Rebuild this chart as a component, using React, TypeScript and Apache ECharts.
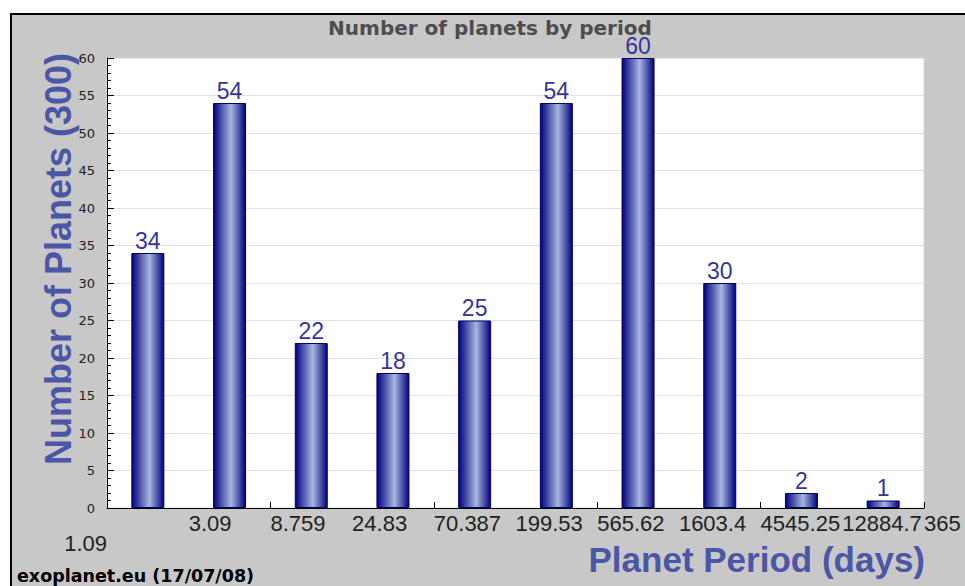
import React, { useEffect, useRef } from "react";
import * as echarts from "echarts";

const periodBoundaries = ["1.09", "3.09", "8.759", "24.83", "70.387", "199.53", "565.62", "1603.4", "4545.25", "12884.7", "365"];
const planetCounts = [34, 54, 22, 18, 25, 54, 60, 30, 2, 1];
const binCategories = planetCounts.map((_, i) => `${periodBoundaries[i]}-${periodBoundaries[i + 1]}`);
const yMin = 0;
const yMax = 60;
const yStep = 5;

const chartTitle = "Number of planets by period";
const yName = "Number of Planets (300)";
const xName = "Planet Period (days)";
const footer = "exoplanet.eu (17/07/08)";

export default function App() {
  const ref = useRef<HTMLDivElement>(null);
  useEffect(() => {
    if (!ref.current) return;
    const chart = echarts.init(ref.current, null, { renderer: "svg" });
    const labelFont = "'Liberation Sans', Arial, sans-serif";
    const nameColor = "#4b56a6";
    chart.setOption({
      animation: false,
      backgroundColor: "transparent",
      grid: {
        left: 107,
        top: 58,
        width: 817,
        height: 450,
        show: true,
        backgroundColor: "#ffffff",
        borderColor: "#d8d8d8",
        borderWidth: 1,
      },
      xAxis: [
        {
          type: "category",
          data: binCategories,
          boundaryGap: true,
          axisLine: { show: true, lineStyle: { color: "#000", width: 1 } },
          axisTick: { show: true, inside: true, length: 6, lineStyle: { color: "#000" } },
          axisLabel: { show: false },
          splitLine: { show: false },
        },
        {
          type: "value",
          min: 0,
          max: periodBoundaries.length - 1,
          interval: 1,
          position: "bottom",
          axisLine: { show: false },
          axisTick: { show: false },
          splitLine: { show: false },
          axisLabel: {
            show: true,
            align: "left",
            margin: 4,
            fontSize: 22,
            lineHeight: 22,
            fontFamily: labelFont,
            color: "#222",
            showMinLabel: true,
            showMaxLabel: true,
            formatter: (v: number) => (v >= 1 ? periodBoundaries[Math.round(v)] : ""),
          },
        },
        {
          type: "value",
          min: 0,
          max: periodBoundaries.length - 1,
          interval: 1,
          position: "bottom",
          axisLine: { show: false },
          axisTick: { show: false },
          splitLine: { show: false },
          axisLabel: {
            show: true,
            align: "right",
            margin: 24,
            fontSize: 22,
            lineHeight: 22,
            fontFamily: labelFont,
            color: "#222",
            showMinLabel: true,
            formatter: (v: number) => (v === 0 ? periodBoundaries[0] : ""),
          },
        },
      ],
      yAxis: {
        type: "value",
        min: yMin,
        max: yMax,
        interval: yStep,
        axisLine: { show: true, lineStyle: { color: "#000", width: 1 } },
        axisTick: { show: true, inside: true, length: 7, lineStyle: { color: "#000" } },
        minorTick: { show: true, splitNumber: 5, length: 4, lineStyle: { color: "#000" } },
        splitLine: { show: true, lineStyle: { color: "#e2e2e2", width: 1 } },
        axisLabel: {
          margin: 12,
          fontSize: 13,
          fontFamily: "'DejaVu Sans', sans-serif",
          color: "#222",
        },
      },
      graphic: [
        {
          type: "text",
          x: 490,
          y: 28,
          style: {
            text: chartTitle,
            fill: "#4d4d4d",
            font: "bold 20px 'DejaVu Sans', sans-serif",
            align: "center",
            verticalAlign: "middle",
          },
        },
        {
          type: "text",
          x: 58,
          y: 259,
          rotation: Math.PI / 2,
          style: {
            text: yName,
            fill: nameColor,
            font: "bold 36px 'Liberation Sans', Arial, sans-serif",
            align: "center",
            verticalAlign: "middle",
          },
        },
        {
          type: "text",
          x: 925,
          y: 542,
          style: {
            text: xName,
            fill: nameColor,
            font: "bold 35px 'Liberation Sans', Arial, sans-serif",
            lineHeight: 35,
            align: "right",
            verticalAlign: "top",
          },
        },
        {
          type: "text",
          x: 17,
          y: 585,
          style: {
            text: footer,
            fill: "#000",
            font: "bold 17.5px 'DejaVu Sans', sans-serif",
            lineHeight: 17.5,
            align: "left",
            verticalAlign: "bottom",
          },
        },
      ],
      series: [
        {
          type: "bar",
          xAxisIndex: 0,
          data: planetCounts,
          barWidth: 33,
          itemStyle: {
            color: new echarts.graphic.LinearGradient(0, 0, 1, 0, [
              { offset: 0, color: "#00007e" },
              { offset: 0.55, color: "#a6b6de" },
              { offset: 1, color: "#00007e" },
            ]),
            borderColor: "#00006e",
            borderWidth: 1,
          },
          label: {
            show: true,
            position: "top",
            distance: 1,
            fontSize: 23,
            lineHeight: 23,
            fontFamily: labelFont,
            color: "#35359a",
          },
        },
      ],
    });
    return () => chart.dispose();
  }, []);

  return (
    <div style={{ position: "fixed", left: 0, top: 0, width: 965, height: 586, background: "#fff", overflow: "hidden" }}>
      <div
        style={{
          position: "absolute",
          left: 10,
          top: 13,
          width: 970,
          height: 590,
          background: "#c8c8c8",
          borderTop: "2px solid #000",
          borderLeft: "2px solid #000",
          boxSizing: "border-box",
        }}
      />
      <div ref={ref} style={{ position: "absolute", left: 0, top: 0, width: 965, height: 586 }} />
    </div>
  );
}
